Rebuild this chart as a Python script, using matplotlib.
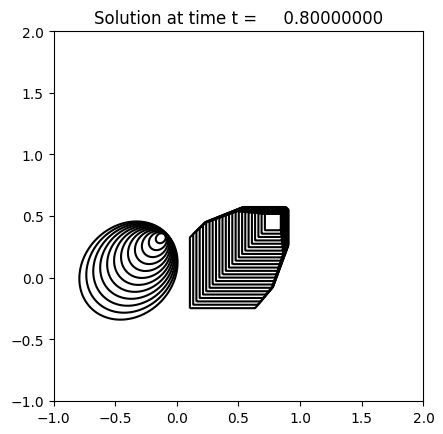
import numpy as np
import matplotlib
matplotlib.use("Agg")
import matplotlib.pyplot as plt

# time shown in the title
t_final = 0.8

# cone: tilted egg shapes, all contours crowd to the upper right point
cone_corner = [-0.101, 0.349]     # point the contours shrink to
cone_shift = -0.0396              # centre offset per unit level, along the diagonal
cone_long = 0.0413                # semi axis along the diagonal, per unit level
cone_ratio = 1.18                 # long / short semi axis
cone_levels = [1.05, 1.9, 2.75, 3.6, 4.45, 5.3, 6.15, 7.0, 7.85, 8.7, 9.55, 10.4]

# square: nested boxes crowding on the top, right and the two diagonals
sq_center = [0.831, 0.506]
# faces: normal (x, y) and offset, value = nx*dx + ny*dy - off
sq_faces_x = [-8.55, 83.3, 0.0, 0.0, -181.5, -96.6, 243.9, 199.4, 52.5]
sq_faces_y = [0.0, 0.0, 92.6, -8.23, 186.2, 241.4, -90.0, -166.9, 52.5]
sq_faces_off = [0.0, 0.0, 0.0, 0.0, 92.3, 38.3, 33.6, 80.6, 0.103]
sq_levels = [1.00, 1.23, 1.45, 1.68, 1.90, 2.13, 2.36, 2.58, 2.81, 3.03, 3.26, 3.49,
             3.71, 3.94, 4.16, 4.39, 4.62, 4.84, 5.07, 5.29, 5.52, 5.75, 5.97, 6.20]


def cone_field(X, Y):
    qx = X - cone_corner[0]
    qy = Y - cone_corner[1]
    # coordinates along and across the diagonal
    a = (qx + qy) / np.sqrt(2)
    b = (qy - qx) / np.sqrt(2) * cone_ratio
    pv = a * cone_shift
    pp = a ** 2 + b ** 2
    k = cone_long ** 2 - cone_shift ** 2
    return (-pv + np.sqrt(pv ** 2 + k * pp)) / k


def square_field(X, Y):
    qx = X - sq_center[0]
    qy = Y - sq_center[1]
    F = np.full(X.shape, -np.inf)
    for wx, wy, off in zip(sq_faces_x, sq_faces_y, sq_faces_off):
        F = np.maximum(F, wx * qx + wy * qy - off)
    return F


x = np.linspace(-1, 2, 901)
y = np.linspace(-1, 2, 901)
X, Y = np.meshgrid(x, y)

fig = plt.figure(figsize=(4.43, 4.35), dpi=100)
ax = fig.add_axes([53 / 443, 33 / 435, 371 / 443, 370 / 435])

ax.contour(X, Y, cone_field(X, Y), levels=cone_levels, colors='k', linewidths=1.5)
ax.contour(X, Y, square_field(X, Y), levels=sq_levels, colors='k', linewidths=1.5)

ax.set_xlim(-1, 2)
ax.set_ylim(-1, 2)
ax.set_aspect('equal')
ax.set_title('Solution at time t = %14.8f' % t_final)

fig.savefig('out.png', dpi=100)
